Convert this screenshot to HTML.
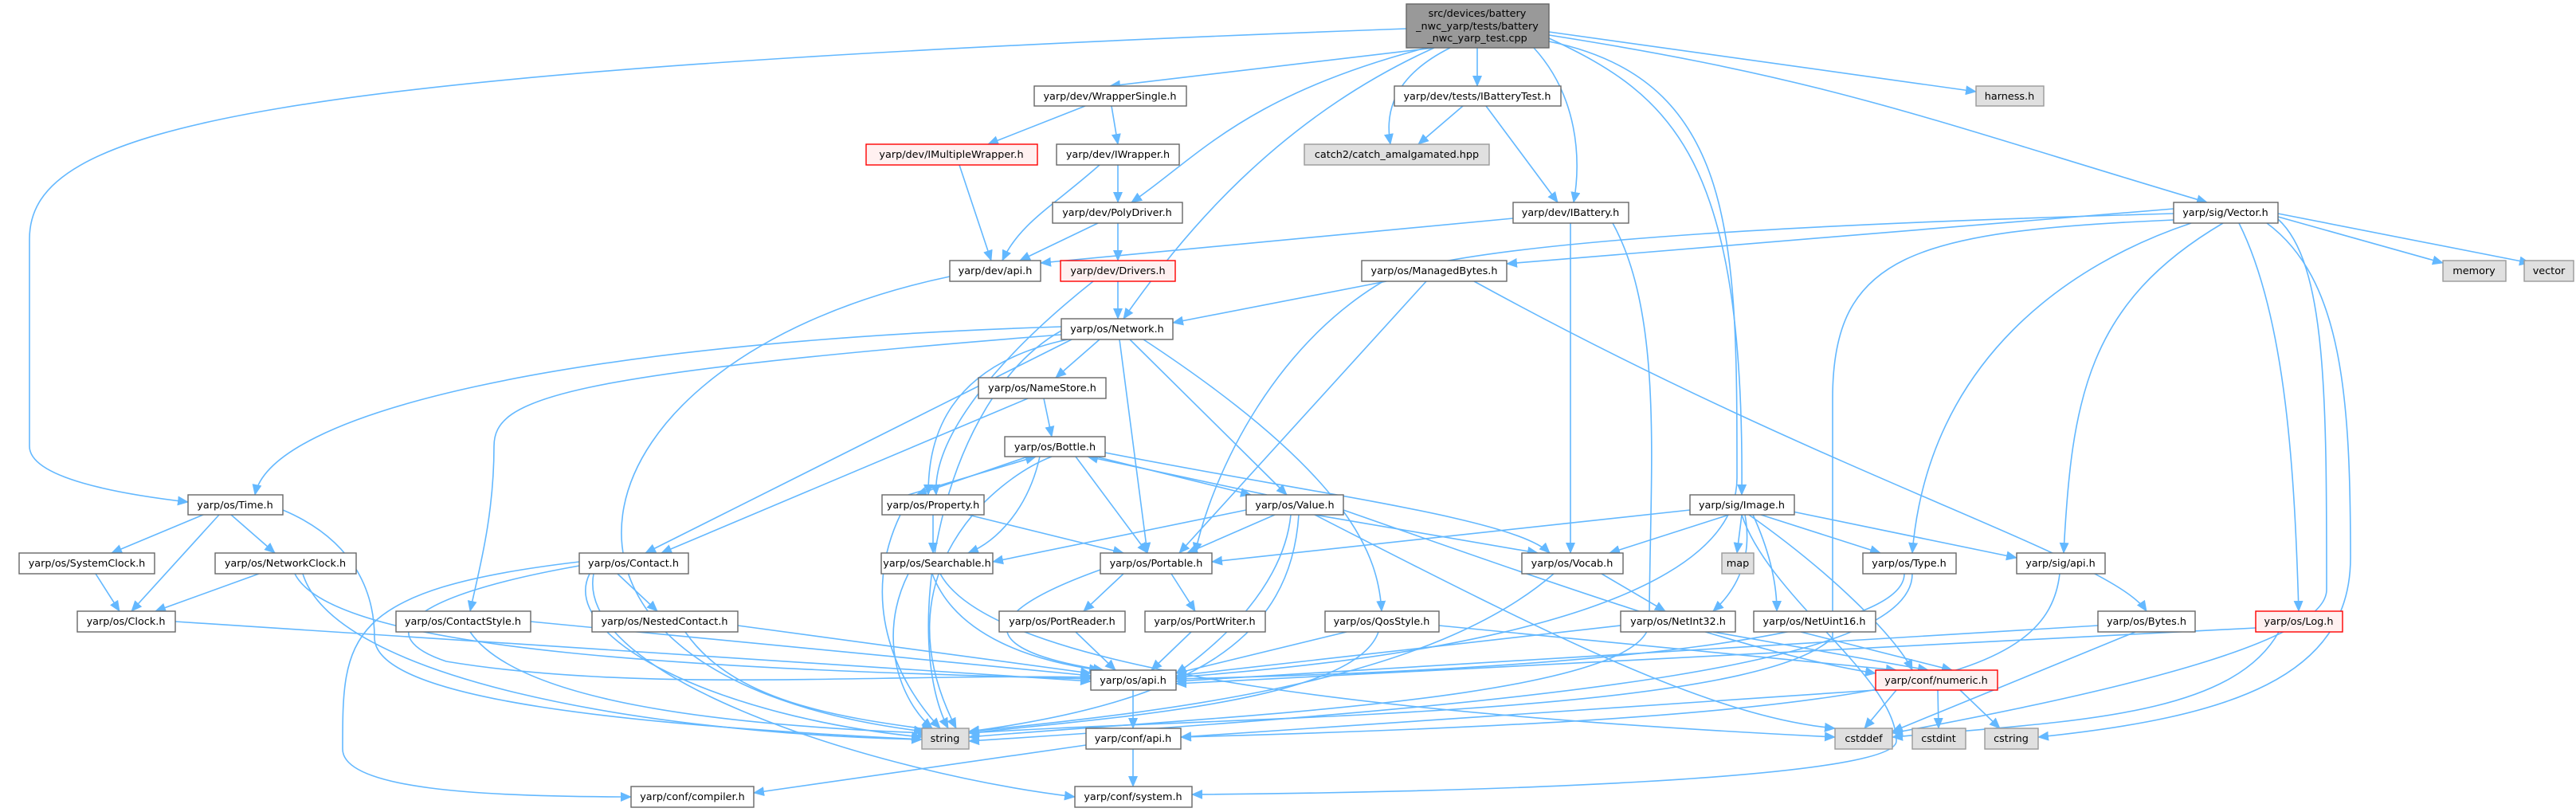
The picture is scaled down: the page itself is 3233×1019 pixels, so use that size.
<!DOCTYPE html>
<html><head><meta charset="utf-8"><style>
html,body{margin:0;padding:0;background:#fff;}
svg{display:block;}
.e{stroke:#63b8ff;stroke-width:1.6;fill:none;marker-end:url(#a);}
.n{fill:#fff;stroke:#666;stroke-width:1.4;}
.r{fill:#fff0f0;stroke:#ff0000;stroke-width:1.4;}
.g{fill:#e0e0e0;stroke:#999;stroke-width:1.4;}
.t{font-family:"DejaVu Sans","Liberation Sans",sans-serif;font-size:12.8px;text-anchor:middle;fill:#000;}
</style></head><body>
<svg width="3233" height="1019" viewBox="0 0 3233 1019" xmlns="http://www.w3.org/2000/svg">
<defs><marker id="a" markerUnits="userSpaceOnUse" markerWidth="14" markerHeight="12" refX="13" refY="6" orient="auto"><path d="M0,0 L14,6 L0,12 z" fill="#63b8ff"/></marker></defs>
<g>
<path class="e" d="M1765 36 C300 90,37 160,37 300 L37 560 C37 600,150 620,236 630"/>
<line class="e" x1="1800" y1="60" x2="1393" y2="108"/>
<path class="e" d="M1790 60 C1560 120,1500 200,1420 254"/>
<path class="e" d="M1800 60 C1600 150,1480 300,1410 400"/>
<path class="e" d="M1820 60 C1740 100,1740 150,1745 181"/>
<line class="e" x1="1854" y1="60" x2="1854" y2="108"/>
<path class="e" d="M1925 60 C1980 120,1985 200,1975 254"/>
<line class="e" x1="1944" y1="40" x2="2480" y2="115"/>
<path class="e" d="M1944 44 C2300 100,2420 150,2770 254"/>
<path class="e" d="M1944 48 C2100 120,2190 200,2186 621"/>
<path class="e" d="M1944 52 C2180 100,2180 300,2180 600 C2180 800,1600 840,1476 850"/>
<line class="e" x1="1362" y1="133" x2="1240" y2="181"/>
<line class="e" x1="1395" y1="133" x2="1403" y2="181"/>
<line class="e" x1="1204" y1="207" x2="1244" y2="327"/>
<path class="e" d="M1380 207 C1320 260,1280 280,1258 327"/>
<line class="e" x1="1403" y1="207" x2="1403" y2="254"/>
<line class="e" x1="1378" y1="280" x2="1280" y2="327"/>
<line class="e" x1="1403" y1="280" x2="1403" y2="327"/>
<line class="e" x1="1403" y1="353" x2="1403" y2="400"/>
<path class="e" d="M1372 353 C1250 450,1170 550,1175 621"/>
<line class="e" x1="1836" y1="133" x2="1780" y2="181"/>
<line class="e" x1="1865" y1="133" x2="1955" y2="254"/>
<line class="e" x1="1899" y1="274" x2="1306" y2="330"/>
<line class="e" x1="1971" y1="280" x2="1971" y2="694"/>
<path class="e" d="M2024 280 C2090 400,2070 600,2070 780 C2070 880,1500 900,1216 925"/>
<path class="e" d="M1192 347 C700 450,600 850,1160 918"/>
<line class="e" x1="2728" y1="262" x2="1891" y2="331"/>
<path class="e" d="M2728 268 C2300 280,1900 300,1760 340 C1600 420,1520 600,1500 694"/>
<path class="e" d="M2750 280 C2600 330,2420 450,2400 694"/>
<path class="e" d="M2790 280 C2620 380,2600 500,2590 694"/>
<path class="e" d="M2810 280 C2870 400,2880 600,2885 767"/>
<path class="e" d="M2845 280 C2940 350,2950 500,2950 700 C2950 850,2800 900,2558 925"/>
<path class="e" d="M2859 275 C2920 330,2920 500,2920 740 C2920 800,2700 860,2375 920"/>
<line class="e" x1="2859" y1="272" x2="3066" y2="330"/>
<line class="e" x1="2859" y1="268" x2="3175" y2="330"/>
<path class="e" d="M2728 276 C2400 290,2300 320,2300 500 L2300 800 C2200 900,1500 900,1216 920"/>
<line class="e" x1="1740" y1="353" x2="1472" y2="405"/>
<line class="e" x1="1790" y1="353" x2="1480" y2="694"/>
<path class="e" d="M1850 353 C2300 600,2650 700,2694 767"/>
<path class="e" d="M1332 410 C700 430,340 520,320 621"/>
<line class="e" x1="1345" y1="426" x2="810" y2="694"/>
<path class="e" d="M1332 420 C700 470,620 500,620 560 C620 650,600 720,590 767"/>
<line class="e" x1="1380" y1="426" x2="1325" y2="474"/>
<path class="e" d="M1340 426 C1180 460,1165 560,1165 621"/>
<line class="e" x1="1405" y1="426" x2="1440" y2="694"/>
<line class="e" x1="1418" y1="426" x2="1615" y2="621"/>
<path class="e" d="M1435 426 C1700 600,1730 700,1734 767"/>
<path class="e" d="M1332 415 C1180 500,1130 800,1190 914"/>
<line class="e" x1="1290" y1="500" x2="830" y2="694"/>
<line class="e" x1="1310" y1="500" x2="1320" y2="548"/>
<line class="e" x1="1290" y1="573" x2="1150" y2="621"/>
<line class="e" x1="1350" y1="573" x2="1440" y2="694"/>
<path class="e" d="M1305 573 C1290 640,1250 680,1215 694"/>
<line class="e" x1="1375" y1="573" x2="1570" y2="621"/>
<path class="e" d="M1387 568 C1650 620,1900 650,1945 694"/>
<path class="e" d="M1320 573 C1250 600,1100 720,1200 914"/>
<line class="e" x1="1140" y1="621" x2="1300" y2="573"/>
<line class="e" x1="1171" y1="646" x2="1171" y2="694"/>
<line class="e" x1="1215" y1="646" x2="1410" y2="694"/>
<path class="e" d="M1130 646 C1080 750,1120 850,1180 914"/>
<line class="e" x1="1590" y1="621" x2="1365" y2="573"/>
<line class="e" x1="1564" y1="640" x2="1246" y2="705"/>
<line class="e" x1="1600" y1="646" x2="1490" y2="694"/>
<line class="e" x1="1650" y1="646" x2="1930" y2="694"/>
<path class="e" d="M1630 646 C1620 800,1500 880,1216 918"/>
<path class="e" d="M1620 646 C1610 750,1500 830,1476 845"/>
<path class="e" d="M1686 640 C2000 750,2200 820,2354 845"/>
<path class="e" d="M1650 646 C1950 800,2150 900,2303 914"/>
<line class="e" x1="2121" y1="640" x2="1521" y2="705"/>
<line class="e" x1="2170" y1="646" x2="2020" y2="694"/>
<line class="e" x1="2186" y1="646" x2="2180" y2="694"/>
<line class="e" x1="2210" y1="646" x2="2360" y2="694"/>
<line class="e" x1="2240" y1="640" x2="2531" y2="700"/>
<path class="e" d="M2190 646 C2200 700,2180 740,2150 767"/>
<path class="e" d="M2200 646 C2220 690,2230 730,2230 767"/>
<path class="e" d="M2186 646 C2220 750,2380 850,2380 930 C2380 980,1800 995,1496 997"/>
<path class="e" d="M2195 646 C2300 720,2380 800,2400 841"/>
<line class="e" x1="255" y1="646" x2="140" y2="694"/>
<line class="e" x1="275" y1="646" x2="165" y2="767"/>
<line class="e" x1="290" y1="646" x2="345" y2="694"/>
<path class="e" d="M355 640 C450 680,470 750,470 800 C470 880,800 910,1157 928"/>
<line class="e" x1="120" y1="720" x2="150" y2="767"/>
<line class="e" x1="325" y1="720" x2="195" y2="767"/>
<path class="e" d="M370 720 C420 820,900 840,1369 852"/>
<path class="e" d="M380 720 C420 850,800 920,1157 928"/>
<line class="e" x1="775" y1="720" x2="825" y2="767"/>
<path class="e" d="M727 710 C500 750,470 800,560 830 C800 870,1100 845,1369 850"/>
<path class="e" d="M740 720 C700 800,900 900,1157 925"/>
<path class="e" d="M727 705 C430 740,430 800,430 940 C430 990,600 1000,792 1000"/>
<path class="e" d="M745 720 C720 850,1100 970,1349 1000"/>
<path class="e" d="M1140 720 C1100 800,1130 880,1170 914"/>
<path class="e" d="M1170 720 C1200 800,1300 830,1380 841"/>
<path class="e" d="M1180 720 C1250 850,1800 900,2303 925"/>
<line class="e" x1="1410" y1="720" x2="1360" y2="767"/>
<line class="e" x1="1470" y1="720" x2="1500" y2="767"/>
<path class="e" d="M1381 715 C1200 780,1250 820,1385 841"/>
<path class="e" d="M1950 720 C1800 850,1500 890,1216 918"/>
<line class="e" x1="2010" y1="720" x2="2090" y2="767"/>
<path class="e" d="M2390 720 C2390 800,2000 840,1476 852"/>
<path class="e" d="M2400 720 C2400 830,2000 880,1216 930"/>
<path class="e" d="M2585 720 C2570 850,2400 900,1482 925"/>
<line class="e" x1="220" y1="780" x2="1369" y2="855"/>
<line class="e" x1="666" y1="780" x2="1369" y2="848"/>
<path class="e" d="M590 793 C650 880,900 910,1165 920"/>
<line class="e" x1="926" y1="785" x2="1369" y2="845"/>
<path class="e" d="M860 793 C920 880,1050 900,1170 916"/>
<line class="e" x1="1350" y1="793" x2="1400" y2="841"/>
<line class="e" x1="1495" y1="793" x2="1445" y2="841"/>
<line class="e" x1="1690" y1="793" x2="1476" y2="845"/>
<path class="e" d="M1730 793 C1700 880,1400 900,1216 920"/>
<line class="e" x1="1806" y1="785" x2="2380" y2="841"/>
<line class="e" x1="2034" y1="785" x2="1476" y2="848"/>
<line class="e" x1="2150" y1="793" x2="2420" y2="841"/>
<line class="e" x1="2260" y1="793" x2="2450" y2="841"/>
<line class="e" x1="2633" y1="785" x2="1476" y2="855"/>
<line class="e" x1="2680" y1="793" x2="2375" y2="918"/>
<line class="e" x1="2831" y1="788" x2="1476" y2="858"/>
<path class="e" d="M2860 793 C2800 900,2600 905,2375 925"/>
<line class="e" x1="1422" y1="866" x2="1422" y2="914"/>
<line class="e" x1="2354" y1="866" x2="1482" y2="925"/>
<line class="e" x1="2380" y1="866" x2="2340" y2="914"/>
<line class="e" x1="2432" y1="866" x2="2433" y2="914"/>
<line class="e" x1="2460" y1="866" x2="2510" y2="914"/>
<line class="e" x1="1363" y1="935" x2="946" y2="995"/>
<line class="e" x1="1422" y1="940" x2="1422" y2="987"/>
</g>
<g>
<rect x="1765" y="5" width="179" height="55" fill="#999" stroke="#666" stroke-width="1.4"/>
<text class="t" x="1854" y="21">src/devices/battery</text>
<text class="t" x="1854" y="37">_nwc_yarp/tests/battery</text>
<text class="t" x="1854" y="52">_nwc_yarp_test.cpp</text>

<rect class="n" x="1298" y="108" width="191" height="25"/><text class="t" x="1393" y="125">yarp/dev/WrapperSingle.h</text>
<rect class="n" x="1750" y="108" width="209" height="25"/><text class="t" x="1854" y="125">yarp/dev/tests/IBatteryTest.h</text>
<rect class="g" x="2480" y="108" width="85" height="25"/><text class="t" x="2522" y="125">harness.h</text>

<rect class="r" x="1087" y="181" width="215" height="26"/><text class="t" x="1194" y="198">yarp/dev/IMultipleWrapper.h</text>
<rect class="n" x="1326" y="181" width="154" height="26"/><text class="t" x="1403" y="198">yarp/dev/IWrapper.h</text>
<rect class="g" x="1637" y="181" width="232" height="26"/><text class="t" x="1753" y="198">catch2/catch_amalgamated.hpp</text>

<rect class="n" x="1321" y="254" width="163" height="26"/><text class="t" x="1402" y="271">yarp/dev/PolyDriver.h</text>
<rect class="n" x="1899" y="254" width="145" height="26"/><text class="t" x="1971" y="271">yarp/dev/IBattery.h</text>
<rect class="n" x="2728" y="254" width="131" height="26"/><text class="t" x="2793" y="271">yarp/sig/Vector.h</text>

<rect class="n" x="1192" y="327" width="114" height="26"/><text class="t" x="1249" y="344">yarp/dev/api.h</text>
<rect class="r" x="1331" y="327" width="144" height="26"/><text class="t" x="1403" y="344">yarp/dev/Drivers.h</text>
<rect class="n" x="1709" y="327" width="182" height="26"/><text class="t" x="1800" y="344">yarp/os/ManagedBytes.h</text>
<rect class="g" x="3066" y="327" width="79" height="26"/><text class="t" x="3105" y="344">memory</text>
<rect class="g" x="3168" y="327" width="62" height="26"/><text class="t" x="3199" y="344">vector</text>

<rect class="n" x="1332" y="400" width="140" height="26"/><text class="t" x="1402" y="417">yarp/os/Network.h</text>
<rect class="n" x="1228" y="474" width="160" height="26"/><text class="t" x="1308" y="491">yarp/os/NameStore.h</text>
<rect class="n" x="1261" y="548" width="126" height="25"/><text class="t" x="1324" y="565">yarp/os/Bottle.h</text>

<rect class="n" x="236" y="621" width="119" height="25"/><text class="t" x="295" y="638">yarp/os/Time.h</text>
<rect class="n" x="1107" y="621" width="128" height="25"/><text class="t" x="1171" y="638">yarp/os/Property.h</text>
<rect class="n" x="1564" y="621" width="122" height="25"/><text class="t" x="1625" y="638">yarp/os/Value.h</text>
<rect class="n" x="2121" y="621" width="131" height="25"/><text class="t" x="2186" y="638">yarp/sig/Image.h</text>

<rect class="n" x="24" y="694" width="170" height="26"/><text class="t" x="109" y="711">yarp/os/SystemClock.h</text>
<rect class="n" x="270" y="694" width="177" height="26"/><text class="t" x="358" y="711">yarp/os/NetworkClock.h</text>
<rect class="n" x="727" y="694" width="137" height="26"/><text class="t" x="795" y="711">yarp/os/Contact.h</text>
<rect class="n" x="1106" y="694" width="140" height="26"/><text class="t" x="1176" y="711">yarp/os/Searchable.h</text>
<rect class="n" x="1381" y="694" width="140" height="26"/><text class="t" x="1451" y="711">yarp/os/Portable.h</text>
<rect class="n" x="1910" y="694" width="127" height="26"/><text class="t" x="1973" y="711">yarp/os/Vocab.h</text>
<rect class="g" x="2161" y="694" width="40" height="26"/><text class="t" x="2181" y="711">map</text>
<rect class="n" x="2338" y="694" width="117" height="26"/><text class="t" x="2396" y="711">yarp/os/Type.h</text>
<rect class="n" x="2531" y="694" width="111" height="26"/><text class="t" x="2586" y="711">yarp/sig/api.h</text>

<rect class="n" x="97" y="767" width="123" height="26"/><text class="t" x="158" y="784">yarp/os/Clock.h</text>
<rect class="n" x="497" y="767" width="169" height="26"/><text class="t" x="581" y="784">yarp/os/ContactStyle.h</text>
<rect class="n" x="743" y="767" width="183" height="26"/><text class="t" x="834" y="784">yarp/os/NestedContact.h</text>
<rect class="n" x="1254" y="767" width="158" height="26"/><text class="t" x="1333" y="784">yarp/os/PortReader.h</text>
<rect class="n" x="1437" y="767" width="151" height="26"/><text class="t" x="1512" y="784">yarp/os/PortWriter.h</text>
<rect class="n" x="1663" y="767" width="143" height="26"/><text class="t" x="1734" y="784">yarp/os/QosStyle.h</text>
<rect class="n" x="2034" y="767" width="144" height="26"/><text class="t" x="2106" y="784">yarp/os/NetInt32.h</text>
<rect class="n" x="2201" y="767" width="153" height="26"/><text class="t" x="2277" y="784">yarp/os/NetUint16.h</text>
<rect class="n" x="2633" y="767" width="122" height="26"/><text class="t" x="2694" y="784">yarp/os/Bytes.h</text>
<rect class="r" x="2831" y="767" width="109" height="26"/><text class="t" x="2885" y="784">yarp/os/Log.h</text>

<rect class="n" x="1369" y="841" width="107" height="25"/><text class="t" x="1422" y="858">yarp/os/api.h</text>
<rect class="r" x="2354" y="841" width="153" height="25"/><text class="t" x="2430" y="858">yarp/conf/numeric.h</text>

<rect class="g" x="1157" y="914" width="59" height="26"/><text class="t" x="1186" y="931">string</text>
<rect class="n" x="1363" y="914" width="119" height="26"/><text class="t" x="1422" y="931">yarp/conf/api.h</text>
<rect class="g" x="2303" y="914" width="72" height="26"/><text class="t" x="2339" y="931">cstddef</text>
<rect class="g" x="2400" y="914" width="67" height="26"/><text class="t" x="2433" y="931">cstdint</text>
<rect class="g" x="2491" y="914" width="67" height="26"/><text class="t" x="2524" y="931">cstring</text>

<rect class="n" x="792" y="987" width="154" height="26"/><text class="t" x="869" y="1004">yarp/conf/compiler.h</text>
<rect class="n" x="1349" y="987" width="147" height="26"/><text class="t" x="1422" y="1004">yarp/conf/system.h</text>
</g>
</svg>
</body></html>
